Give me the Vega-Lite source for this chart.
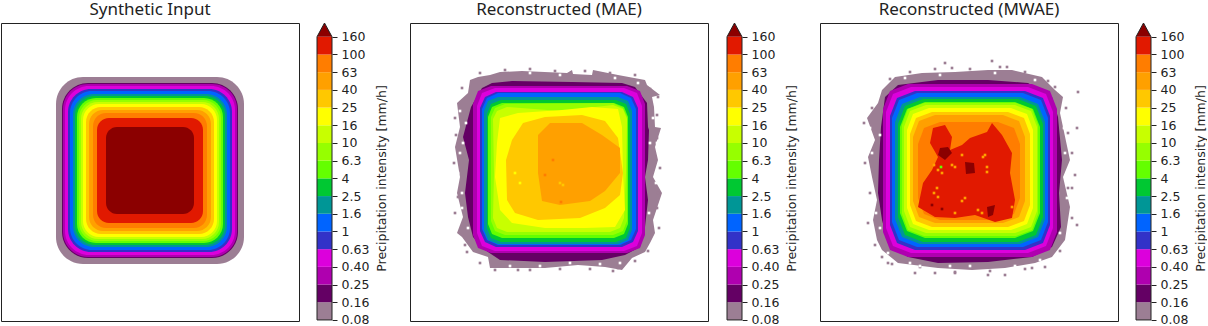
{"$schema":"https://vega.github.io/schema/vega-lite/v6.json","padding":{"left":0,"top":0,"right":0,"bottom":0},"background":"white","config":{"view":{"stroke":"#222","strokeWidth":1},"font":"DejaVu Sans"},"bounds":"flush","spacing":0,
"datasets":{
"bar":[{"l":0,"i":0,"j":1},{"l":1,"i":1,"j":2},{"l":2,"i":2,"j":3},{"l":3,"i":3,"j":4},{"l":4,"i":4,"j":5},{"l":5,"i":5,"j":6},{"l":6,"i":6,"j":7},{"l":7,"i":7,"j":8},{"l":8,"i":8,"j":9},{"l":9,"i":9,"j":10},{"l":10,"i":10,"j":11},{"l":11,"i":11,"j":12},{"l":12,"i":12,"j":13},{"l":13,"i":13,"j":14},{"l":14,"i":14,"j":15},{"l":15,"i":15,"j":16}],
"tip":[{"l":16,"i":16,"c":0},{"l":16,"i":16.78,"c":0.5},{"l":16,"i":16,"c":1}],
"edge":[{"i":0,"c":0},{"i":16,"c":0},{"i":16.78,"c":0.5},{"i":16,"c":1},{"i":0,"c":1},{"i":0,"c":0}],
"none":[],
"d1":[{"l":0,"x":55,"x2":243,"y":54,"y2":241},{"l":1,"x":61,"x2":237,"y":60,"y2":235},{"l":2,"x":62,"x2":236,"y":61,"y2":234},{"l":3,"x":64,"x2":234,"y":63,"y2":232},{"l":4,"x":67,"x2":231,"y":66,"y2":229},{"l":5,"x":69,"x2":229,"y":68,"y2":227},{"l":6,"x":72,"x2":226,"y":71,"y2":224},{"l":7,"x":74,"x2":224,"y":73,"y2":222},{"l":8,"x":76,"x2":222,"y":75,"y2":220},{"l":9,"x":78,"x2":220,"y":77,"y2":218},{"l":10,"x":80,"x2":218,"y":79,"y2":216},{"l":11,"x":82,"x2":216,"y":81,"y2":214},{"l":12,"x":85,"x2":213,"y":84,"y2":211},{"l":13,"x":88,"x2":210,"y":87,"y2":208},{"l":14,"x":92,"x2":206,"y":90,"y2":205},{"l":15,"x":96,"x2":202,"y":95,"y2":200},{"l":16,"x":105,"x2":193,"y":104,"y2":191}],
"d2":[
{"l":0,"x":68,"y":54},{"l":0,"x":80,"y":52},{"l":0,"x":90,"y":49},{"l":0,"x":112,"y":48},{"l":0,"x":157,"y":50},{"l":0,"x":162,"y":47},{"l":0,"x":163,"y":51},{"l":0,"x":182,"y":52},{"l":0,"x":183,"y":47},{"l":0,"x":208,"y":52},{"l":0,"x":235,"y":57},{"l":0,"x":237,"y":62},{"l":0,"x":250,"y":72},{"l":0,"x":242,"y":74},{"l":0,"x":244,"y":84},{"l":0,"x":245,"y":104},{"l":0,"x":251,"y":105},{"l":0,"x":245,"y":124},{"l":0,"x":248,"y":137},{"l":0,"x":243,"y":154},{"l":0,"x":252,"y":170},{"l":0,"x":243,"y":197},{"l":0,"x":245,"y":210},{"l":0,"x":240,"y":220},{"l":0,"x":235,"y":229},{"l":0,"x":222,"y":235},{"l":0,"x":212,"y":247},{"l":0,"x":195,"y":244},{"l":0,"x":168,"y":242},{"l":0,"x":135,"y":245},{"l":0,"x":80,"y":245},{"l":0,"x":78,"y":234},{"l":0,"x":63,"y":229},{"l":0,"x":52,"y":214},{"l":0,"x":47,"y":210},{"l":0,"x":53,"y":194},{"l":0,"x":47,"y":170},{"l":0,"x":50,"y":154},{"l":0,"x":45,"y":124},{"l":0,"x":50,"y":104},{"l":0,"x":47,"y":80},{"l":0,"x":58,"y":70},{"l":0,"x":60,"y":57},
{"l":1,"x":72,"y":65},{"l":1,"x":82,"y":60},{"l":1,"x":102,"y":58},{"l":1,"x":162,"y":59},{"l":1,"x":212,"y":60},{"l":1,"x":225,"y":64},{"l":1,"x":237,"y":80},{"l":1,"x":238,"y":104},{"l":1,"x":239,"y":107},{"l":1,"x":238,"y":137},{"l":1,"x":235,"y":154},{"l":1,"x":238,"y":177},{"l":1,"x":235,"y":204},{"l":1,"x":230,"y":224},{"l":1,"x":215,"y":232},{"l":1,"x":192,"y":237},{"l":1,"x":135,"y":239},{"l":1,"x":90,"y":237},{"l":1,"x":75,"y":227},{"l":1,"x":63,"y":214},{"l":1,"x":58,"y":194},{"l":1,"x":55,"y":170},{"l":1,"x":59,"y":137},{"l":1,"x":53,"y":114},{"l":1,"x":61,"y":84},
{"l":2,"x":81,"y":63},{"l":2,"x":217,"y":63},{"l":2,"x":230,"y":68},{"l":2,"x":235,"y":81},{"l":2,"x":235,"y":212},{"l":2,"x":230,"y":225},{"l":2,"x":217,"y":230},{"l":2,"x":81,"y":230},{"l":2,"x":68,"y":225},{"l":2,"x":63,"y":212},{"l":2,"x":63,"y":81},{"l":2,"x":68,"y":68},
{"l":3,"x":85,"y":65},{"l":3,"x":214,"y":65},{"l":3,"x":227,"y":70},{"l":3,"x":232,"y":83},{"l":3,"x":232,"y":210},{"l":3,"x":227,"y":223},{"l":3,"x":214,"y":228},{"l":3,"x":85,"y":228},{"l":3,"x":72,"y":223},{"l":3,"x":67,"y":210},{"l":3,"x":67,"y":83},{"l":3,"x":72,"y":70},
{"l":4,"x":86,"y":69},{"l":4,"x":212,"y":69},{"l":4,"x":223,"y":74},{"l":4,"x":228,"y":85},{"l":4,"x":228,"y":208},{"l":4,"x":223,"y":219},{"l":4,"x":212,"y":224},{"l":4,"x":86,"y":224},{"l":4,"x":75,"y":219},{"l":4,"x":70,"y":208},{"l":4,"x":70,"y":85},{"l":4,"x":75,"y":74},
{"l":5,"x":88,"y":70},{"l":5,"x":210,"y":70},{"l":5,"x":221,"y":75},{"l":5,"x":226,"y":86},{"l":5,"x":226,"y":206},{"l":5,"x":221,"y":217},{"l":5,"x":210,"y":222},{"l":5,"x":88,"y":222},{"l":5,"x":77,"y":217},{"l":5,"x":72,"y":206},{"l":5,"x":72,"y":86},{"l":5,"x":77,"y":75},
{"l":6,"x":88,"y":74},{"l":6,"x":208,"y":74},{"l":6,"x":218,"y":78},{"l":6,"x":222,"y":88},{"l":6,"x":222,"y":207},{"l":6,"x":218,"y":217},{"l":6,"x":208,"y":221},{"l":6,"x":88,"y":221},{"l":6,"x":78,"y":217},{"l":6,"x":74,"y":207},{"l":6,"x":74,"y":88},{"l":6,"x":78,"y":78},
{"l":7,"x":91,"y":77},{"l":7,"x":206,"y":77},{"l":7,"x":216,"y":81},{"l":7,"x":220,"y":91},{"l":7,"x":220,"y":205},{"l":7,"x":216,"y":215},{"l":7,"x":206,"y":219},{"l":7,"x":91,"y":219},{"l":7,"x":81,"y":215},{"l":7,"x":77,"y":205},{"l":7,"x":77,"y":91},{"l":7,"x":81,"y":81},
{"l":8,"x":92,"y":80},{"l":8,"x":204,"y":80},{"l":8,"x":214,"y":84},{"l":8,"x":218,"y":94},{"l":8,"x":218,"y":201},{"l":8,"x":214,"y":211},{"l":8,"x":204,"y":215},{"l":8,"x":92,"y":215},{"l":8,"x":82,"y":211},{"l":8,"x":78,"y":201},{"l":8,"x":78,"y":94},{"l":8,"x":82,"y":84},
{"l":9,"x":95,"y":81},{"l":9,"x":203,"y":80},{"l":9,"x":213,"y":85},{"l":9,"x":217,"y":94},{"l":9,"x":217,"y":198},{"l":9,"x":213,"y":208},{"l":9,"x":203,"y":212},{"l":9,"x":95,"y":212},{"l":9,"x":85,"y":208},{"l":9,"x":81,"y":198},{"l":9,"x":81,"y":94},{"l":9,"x":85,"y":85},
{"l":10,"x":97,"y":84},{"l":10,"x":150,"y":88},{"l":10,"x":203,"y":82},{"l":10,"x":213,"y":86},{"l":10,"x":217,"y":96},{"l":10,"x":216,"y":150},{"l":10,"x":214,"y":195},{"l":10,"x":210,"y":205},{"l":10,"x":200,"y":209},{"l":10,"x":97,"y":209},{"l":10,"x":87,"y":205},{"l":10,"x":83,"y":195},{"l":10,"x":84,"y":150},{"l":10,"x":83,"y":96},{"l":10,"x":87,"y":88},
{"l":11,"x":90,"y":95},{"l":11,"x":108,"y":90},{"l":11,"x":152,"y":87},{"l":11,"x":182,"y":84},{"l":11,"x":208,"y":86},{"l":11,"x":212,"y":104},{"l":11,"x":213,"y":150},{"l":11,"x":215,"y":187},{"l":11,"x":205,"y":204},{"l":11,"x":175,"y":205},{"l":11,"x":135,"y":205},{"l":11,"x":102,"y":200},{"l":11,"x":90,"y":187},{"l":11,"x":85,"y":154},{"l":11,"x":87,"y":120},
{"l":12,"x":113,"y":100},{"l":12,"x":135,"y":94},{"l":12,"x":172,"y":92},{"l":12,"x":195,"y":98},{"l":12,"x":208,"y":115},{"l":12,"x":213,"y":150},{"l":12,"x":210,"y":172},{"l":12,"x":195,"y":185},{"l":12,"x":170,"y":195},{"l":12,"x":128,"y":197},{"l":12,"x":105,"y":190},{"l":12,"x":97,"y":177},{"l":12,"x":96,"y":137},{"l":12,"x":102,"y":117},
{"l":13,"x":128,"y":112},{"l":13,"x":140,"y":100},{"l":13,"x":172,"y":100},{"l":13,"x":192,"y":112},{"l":13,"x":210,"y":125},{"l":13,"x":210,"y":150},{"l":13,"x":195,"y":168},{"l":13,"x":180,"y":178},{"l":13,"x":150,"y":182},{"l":13,"x":132,"y":178},{"l":13,"x":128,"y":150}],
"s2":[{"l":14,"x":143,"y":137},{"l":14,"x":151,"y":179},{"l":14,"x":135,"y":152},{"l":12,"x":150,"y":160},{"l":12,"x":153,"y":162},{"l":11,"x":105,"y":150},{"l":11,"x":110,"y":160},{"l":0,"x":48,"y":174},{"l":0,"x":85,"y":247},{"l":0,"x":108,"y":247},{"l":0,"x":208,"y":245},{"l":0,"x":57,"y":229},{"l":0,"x":248,"y":170},{"l":0,"x":248,"y":74},{"l":0,"x":70,"y":50},{"l":0,"x":95,"y":47},{"l":0,"x":120,"y":46},{"l":0,"x":145,"y":48},{"l":0,"x":175,"y":48},{"l":0,"x":200,"y":50},{"l":0,"x":225,"y":52},{"l":0,"x":240,"y":66},{"l":0,"x":247,"y":92},{"l":0,"x":247,"y":115},{"l":0,"x":250,"y":145},{"l":0,"x":247,"y":185},{"l":0,"x":249,"y":205},{"l":0,"x":238,"y":228},{"l":0,"x":225,"y":238},{"l":0,"x":203,"y":248},{"l":0,"x":180,"y":246},{"l":0,"x":150,"y":246},{"l":0,"x":120,"y":247},{"l":0,"x":70,"y":240},{"l":0,"x":55,"y":222},{"l":0,"x":45,"y":190},{"l":0,"x":44,"y":140},{"l":0,"x":46,"y":112},{"l":0,"x":45,"y":95},{"l":0,"x":52,"y":65},{"l":-1,"x":52,"y":170},{"l":-1,"x":50,"y":130},{"l":-1,"x":247,"y":120},{"l":-1,"x":210,"y":240},{"l":-1,"x":130,"y":243},{"l":-1,"x":56,"y":100},{"l":-1,"x":50,"y":88},{"l":-1,"x":53,"y":120},{"l":-1,"x":48,"y":150},{"l":-1,"x":52,"y":185},{"l":-1,"x":58,"y":205},{"l":-1,"x":243,"y":95},{"l":-1,"x":240,"y":120},{"l":-1,"x":246,"y":160},{"l":-1,"x":239,"y":190},{"l":-1,"x":100,"y":243},{"l":-1,"x":160,"y":240},{"l":-1,"x":190,"y":241},{"l":-1,"x":75,"y":241},{"l":-1,"x":120,"y":50},{"l":-1,"x":150,"y":52},{"l":-1,"x":205,"y":55},{"l":-1,"x":228,"y":60}],
"d3":[
{"l":0,"x":75,"y":54},{"l":0,"x":102,"y":50},{"l":0,"x":135,"y":49},{"l":0,"x":168,"y":47},{"l":0,"x":192,"y":47},{"l":0,"x":222,"y":54},{"l":0,"x":235,"y":67},{"l":0,"x":243,"y":74},{"l":0,"x":240,"y":90},{"l":0,"x":250,"y":137},{"l":0,"x":243,"y":154},{"l":0,"x":250,"y":184},{"l":0,"x":245,"y":217},{"l":0,"x":232,"y":234},{"l":0,"x":215,"y":240},{"l":0,"x":185,"y":245},{"l":0,"x":152,"y":247},{"l":0,"x":118,"y":245},{"l":0,"x":78,"y":240},{"l":0,"x":62,"y":227},{"l":0,"x":57,"y":217},{"l":0,"x":53,"y":197},{"l":0,"x":57,"y":177},{"l":0,"x":52,"y":154},{"l":0,"x":48,"y":134},{"l":0,"x":55,"y":117},{"l":0,"x":47,"y":95},{"l":0,"x":58,"y":80},{"l":0,"x":62,"y":67},
{"l":1,"x":65,"y":74},{"l":1,"x":78,"y":62},{"l":1,"x":118,"y":57},{"l":1,"x":168,"y":57},{"l":1,"x":208,"y":60},{"l":1,"x":232,"y":74},{"l":1,"x":238,"y":94},{"l":1,"x":242,"y":137},{"l":1,"x":239,"y":170},{"l":1,"x":241,"y":204},{"l":1,"x":232,"y":224},{"l":1,"x":212,"y":234},{"l":1,"x":168,"y":239},{"l":1,"x":118,"y":240},{"l":1,"x":88,"y":234},{"l":1,"x":68,"y":220},{"l":1,"x":62,"y":197},{"l":1,"x":58,"y":170},{"l":1,"x":59,"y":137},{"l":1,"x":61,"y":104},
{"l":2,"x":88,"y":61},{"l":2,"x":212,"y":61},{"l":2,"x":230,"y":68},{"l":2,"x":237,"y":86},{"l":2,"x":237,"y":209},{"l":2,"x":230,"y":227},{"l":2,"x":212,"y":234},{"l":2,"x":88,"y":234},{"l":2,"x":70,"y":227},{"l":2,"x":63,"y":209},{"l":2,"x":63,"y":86},{"l":2,"x":70,"y":68},
{"l":3,"x":91,"y":64},{"l":3,"x":208,"y":64},{"l":3,"x":226,"y":71},{"l":3,"x":233,"y":89},{"l":3,"x":233,"y":205},{"l":3,"x":226,"y":223},{"l":3,"x":208,"y":230},{"l":3,"x":91,"y":230},{"l":3,"x":73,"y":223},{"l":3,"x":66,"y":205},{"l":3,"x":66,"y":89},{"l":3,"x":73,"y":71},
{"l":4,"x":95,"y":68},{"l":4,"x":205,"y":68},{"l":4,"x":223,"y":75},{"l":4,"x":230,"y":93},{"l":4,"x":230,"y":202},{"l":4,"x":223,"y":220},{"l":4,"x":205,"y":227},{"l":4,"x":95,"y":227},{"l":4,"x":77,"y":220},{"l":4,"x":70,"y":202},{"l":4,"x":70,"y":93},{"l":4,"x":77,"y":75},
{"l":5,"x":97,"y":70},{"l":5,"x":203,"y":70},{"l":5,"x":221,"y":77},{"l":5,"x":228,"y":95},{"l":5,"x":228,"y":199},{"l":5,"x":221,"y":217},{"l":5,"x":203,"y":224},{"l":5,"x":97,"y":224},{"l":5,"x":79,"y":217},{"l":5,"x":72,"y":199},{"l":5,"x":72,"y":95},{"l":5,"x":79,"y":77},
{"l":6,"x":100,"y":74},{"l":6,"x":200,"y":74},{"l":6,"x":218,"y":81},{"l":6,"x":225,"y":99},{"l":6,"x":225,"y":196},{"l":6,"x":218,"y":214},{"l":6,"x":200,"y":221},{"l":6,"x":100,"y":221},{"l":6,"x":82,"y":214},{"l":6,"x":75,"y":196},{"l":6,"x":75,"y":99},{"l":6,"x":82,"y":81},
{"l":7,"x":103,"y":76},{"l":7,"x":198,"y":76},{"l":7,"x":216,"y":83},{"l":7,"x":223,"y":101},{"l":7,"x":223,"y":194},{"l":7,"x":216,"y":212},{"l":7,"x":198,"y":219},{"l":7,"x":103,"y":219},{"l":7,"x":85,"y":212},{"l":7,"x":78,"y":194},{"l":7,"x":78,"y":101},{"l":7,"x":85,"y":83},
{"l":8,"x":105,"y":79},{"l":8,"x":195,"y":79},{"l":8,"x":213,"y":86},{"l":8,"x":220,"y":104},{"l":8,"x":220,"y":190},{"l":8,"x":213,"y":208},{"l":8,"x":195,"y":215},{"l":8,"x":105,"y":215},{"l":8,"x":87,"y":208},{"l":8,"x":80,"y":190},{"l":8,"x":80,"y":104},{"l":8,"x":87,"y":86},
{"l":9,"x":104,"y":80},{"l":9,"x":196,"y":80},{"l":9,"x":212,"y":86},{"l":9,"x":218,"y":102},{"l":9,"x":218,"y":191},{"l":9,"x":212,"y":207},{"l":9,"x":196,"y":213},{"l":9,"x":104,"y":213},{"l":9,"x":88,"y":207},{"l":9,"x":82,"y":191},{"l":9,"x":82,"y":102},{"l":9,"x":88,"y":86},
{"l":10,"x":106,"y":82},{"l":10,"x":195,"y":82},{"l":10,"x":211,"y":88},{"l":10,"x":217,"y":104},{"l":10,"x":217,"y":188},{"l":10,"x":211,"y":204},{"l":10,"x":195,"y":210},{"l":10,"x":106,"y":210},{"l":10,"x":90,"y":204},{"l":10,"x":84,"y":188},{"l":10,"x":84,"y":104},{"l":10,"x":90,"y":88},
{"l":11,"x":109,"y":85},{"l":11,"x":191,"y":85},{"l":11,"x":207,"y":91},{"l":11,"x":213,"y":107},{"l":11,"x":213,"y":185},{"l":11,"x":207,"y":201},{"l":11,"x":191,"y":207},{"l":11,"x":109,"y":207},{"l":11,"x":93,"y":201},{"l":11,"x":87,"y":185},{"l":11,"x":87,"y":107},{"l":11,"x":93,"y":91},
{"l":12,"x":112,"y":89},{"l":12,"x":188,"y":89},{"l":12,"x":204,"y":95},{"l":12,"x":210,"y":111},{"l":12,"x":210,"y":182},{"l":12,"x":204,"y":198},{"l":12,"x":188,"y":204},{"l":12,"x":112,"y":204},{"l":12,"x":96,"y":198},{"l":12,"x":90,"y":182},{"l":12,"x":90,"y":111},{"l":12,"x":96,"y":95},
{"l":13,"x":115,"y":92},{"l":13,"x":183,"y":92},{"l":13,"x":199,"y":98},{"l":13,"x":205,"y":114},{"l":13,"x":205,"y":178},{"l":13,"x":199,"y":194},{"l":13,"x":183,"y":200},{"l":13,"x":115,"y":200},{"l":13,"x":99,"y":194},{"l":13,"x":93,"y":178},{"l":13,"x":93,"y":114},{"l":13,"x":99,"y":98},
{"l":14,"x":120,"y":99},{"l":14,"x":178,"y":99},{"l":14,"x":194,"y":105},{"l":14,"x":200,"y":121},{"l":14,"x":200,"y":175},{"l":14,"x":194,"y":191},{"l":14,"x":178,"y":197},{"l":14,"x":120,"y":197},{"l":14,"x":104,"y":191},{"l":14,"x":98,"y":175},{"l":14,"x":98,"y":121},{"l":14,"x":104,"y":105},
{"l":15,"x":113,"y":105},{"l":15,"x":125,"y":102},{"l":15,"x":132,"y":114},{"l":15,"x":130,"y":127},{"l":15,"x":142,"y":122},{"l":15,"x":150,"y":115},{"l":15,"x":167,"y":109},{"l":15,"x":172,"y":100},{"l":15,"x":182,"y":112},{"l":15,"x":192,"y":130},{"l":15,"x":190,"y":150},{"l":15,"x":195,"y":177},{"l":15,"x":192,"y":195},{"l":15,"x":175,"y":199},{"l":15,"x":155,"y":192},{"l":15,"x":135,"y":195},{"l":15,"x":115,"y":194},{"l":15,"x":98,"y":184},{"l":15,"x":103,"y":160},{"l":15,"x":112,"y":147},{"l":15,"x":118,"y":134},{"l":15,"x":110,"y":120},
{"l":16,"g":1,"x":120,"y":125},{"l":16,"g":1,"x":128,"y":124},{"l":16,"g":1,"x":132,"y":130},{"l":16,"g":1,"x":125,"y":137},{"l":16,"g":1,"x":118,"y":132},
{"l":16,"g":2,"x":145,"y":139},{"l":16,"g":2,"x":154,"y":140},{"l":16,"g":2,"x":155,"y":150},{"l":16,"g":2,"x":146,"y":151},
{"l":16,"g":3,"x":167,"y":184},{"l":16,"g":3,"x":175,"y":182},{"l":16,"g":3,"x":173,"y":192},{"l":16,"g":3,"x":168,"y":194}],
"s3":[{"l":16,"x":112,"y":182},{"l":16,"x":122,"y":186},{"l":13,"x":165,"y":132},{"l":13,"x":163,"y":134},{"l":13,"x":167,"y":144},{"l":13,"x":167,"y":149},{"l":13,"x":145,"y":175},{"l":13,"x":142,"y":178},{"l":13,"x":117,"y":165},{"l":13,"x":114,"y":170},{"l":13,"x":118,"y":174},{"l":13,"x":135,"y":190},{"l":13,"x":158,"y":187},{"l":13,"x":162,"y":190},{"l":13,"x":132,"y":142},{"l":13,"x":135,"y":144},{"l":13,"x":118,"y":147},{"l":13,"x":122,"y":150},{"l":13,"x":192,"y":184},{"l":13,"x":142,"y":132},{"l":13,"x":114,"y":142},{"l":8,"x":121,"y":144},{"l":0,"x":125,"y":40},{"l":0,"x":132,"y":45},{"l":0,"x":172,"y":38},{"l":0,"x":187,"y":44},{"l":0,"x":235,"y":64},{"l":0,"x":258,"y":69},{"l":0,"x":257,"y":105},{"l":0,"x":255,"y":152},{"l":0,"x":252,"y":165},{"l":0,"x":257,"y":202},{"l":0,"x":62,"y":234},{"l":0,"x":68,"y":240},{"l":0,"x":95,"y":250},{"l":0,"x":115,"y":250},{"l":0,"x":135,"y":250},{"l":0,"x":168,"y":252},{"l":0,"x":185,"y":252},{"l":0,"x":212,"y":245},{"l":0,"x":225,"y":244},{"l":0,"x":70,"y":56},{"l":0,"x":90,"y":49},{"l":0,"x":115,"y":46},{"l":0,"x":150,"y":46},{"l":0,"x":180,"y":44},{"l":0,"x":205,"y":49},{"l":0,"x":228,"y":58},{"l":0,"x":246,"y":85},{"l":0,"x":248,"y":110},{"l":0,"x":252,"y":130},{"l":0,"x":248,"y":165},{"l":0,"x":252,"y":195},{"l":0,"x":240,"y":228},{"l":0,"x":205,"y":246},{"l":0,"x":170,"y":248},{"l":0,"x":135,"y":249},{"l":0,"x":100,"y":244},{"l":0,"x":72,"y":241},{"l":0,"x":55,"y":222},{"l":0,"x":48,"y":200},{"l":0,"x":50,"y":170},{"l":0,"x":45,"y":140},{"l":0,"x":44,"y":100},{"l":0,"x":52,"y":85},{"l":-1,"x":52,"y":180},{"l":-1,"x":245,"y":130},{"l":-1,"x":150,"y":243},{"l":-1,"x":100,"y":243},{"l":-1,"x":60,"y":112},{"l":-1,"x":52,"y":130},{"l":-1,"x":50,"y":105},{"l":-1,"x":56,"y":190},{"l":-1,"x":60,"y":205},{"l":-1,"x":244,"y":105},{"l":-1,"x":247,"y":150},{"l":-1,"x":247,"y":175},{"l":-1,"x":240,"y":210},{"l":-1,"x":220,"y":237},{"l":-1,"x":195,"y":243},{"l":-1,"x":130,"y":243},{"l":-1,"x":90,"y":240},{"l":-1,"x":68,"y":230},{"l":-1,"x":85,"y":55},{"l":-1,"x":120,"y":52},{"l":-1,"x":175,"y":50},{"l":-1,"x":215,"y":57}]
},
"hconcat":[
{"width":298,"height":298,"title":{"text":"Synthetic Input","font":"Noto Sans","fontSize":17,"fontWeight":"normal","color":"#222","offset":4},"data":{"name":"d1"},"mark":{"type":"rect","cornerRadius":{"expr":"11+(16-datum.l)"}},"encoding":{"x":{"field":"x","type":"quantitative","scale":{"domain":[0,298],"nice":false},"axis":null},"x2":{"field":"x2"},"y":{"field":"y","type":"quantitative","scale":{"domain":[0,298],"nice":false,"reverse":true},"axis":null},"y2":{"field":"y2"},"fill":{"field":"l","type":"ordinal","legend":null,"scale":{"domain":[-1,0,1,2,3,4,5,6,7,8,9,10,11,12,13,14,15,16],"range":["#ffffff","#9c7e94","#640064","#AF00AF","#DC00DC","#3232C8","#0064FF","#009696","#00C832","#64FF00","#96FF00","#C8FF00","#FFFF00","#FFC800","#FFA000","#FF7D00","#E11900","#8B0000"]}}}},
{"width":18,"height":298,"view":{"stroke":null},"data":{"name":"none"},"mark":"rect","encoding":{}},
{"width":15,"height":298,"view":{"stroke":null},"encoding":{"y":{"field":"i","type":"quantitative","scale":{"domain":[-0.06,16.78],"nice":false,"zero":false},"axis":{"orient":"right","values":[0,1,2,3,4,5,6,7,8,9,10,11,12,13,14,15,16],"labelExpr":"['0.08','0.16','0.25','0.40','0.63','1','1.6','2.5','4','6.3','10','16','25','40','63','100','160'][datum.value]","labelOverlap":false,"labelFlush":false,"labelBound":false,"grid":false,"domain":false,"tickSize":5,"tickColor":"#222","labelColor":"#222","labelFontSize":12.5,"labelFont":"DejaVu Sans","labelPadding":4,"title":"Precipitation intensity [mm/h]","titleFont":"DejaVu Sans","titleFontSize":12.5,"titleFontWeight":"normal","titleColor":"#222","titleAngle":270,"titleX":49,"titleY":155,"titleBaseline":"middle"}}},"layer":[
{"data":{"name":"bar"},"mark":"rect","encoding":{"x":{"datum":0,"type":"quantitative","scale":{"domain":[0,1],"nice":false},"axis":null},"x2":{"datum":1},"y2":{"field":"j"},"fill":{"field":"l","type":"ordinal","legend":null,"scale":{"domain":[-1,0,1,2,3,4,5,6,7,8,9,10,11,12,13,14,15,16],"range":["#ffffff","#9c7e94","#640064","#AF00AF","#DC00DC","#3232C8","#0064FF","#009696","#00C832","#64FF00","#96FF00","#C8FF00","#FFFF00","#FFC800","#FFA000","#FF7D00","#E11900","#8B0000"]}}}},
{"data":{"name":"tip"},"mark":{"type":"line","strokeWidth":0,"fill":"#8B0000"},"encoding":{"x":{"field":"c","type":"quantitative","axis":null},"order":{"value":null}}},
{"data":{"name":"edge"},"mark":{"type":"line","strokeWidth":1,"color":"#222"},"encoding":{"x":{"field":"c","type":"quantitative","axis":null},"order":{"value":null}}}
]},
{"width":78,"height":298,"view":{"stroke":null},"data":{"name":"none"},"mark":"rect","encoding":{}},
{"width":298,"height":298,"title":{"text":"Reconstructed (MAE)","font":"Noto Sans","fontSize":17,"fontWeight":"normal","color":"#222","offset":4},"layer":[
{"data":{"name":"d2"},"mark":{"type":"line","strokeWidth":0},"encoding":{"x":{"field":"x","type":"quantitative","scale":{"domain":[0,298],"nice":false},"axis":null},"y":{"field":"y","type":"quantitative","scale":{"domain":[0,298],"nice":false,"reverse":true},"axis":null},"fill":{"field":"l","type":"ordinal","legend":null,"scale":{"domain":[-1,0,1,2,3,4,5,6,7,8,9,10,11,12,13,14,15,16],"range":["#ffffff","#9c7e94","#640064","#AF00AF","#DC00DC","#3232C8","#0064FF","#009696","#00C832","#64FF00","#96FF00","#C8FF00","#FFFF00","#FFC800","#FFA000","#FF7D00","#E11900","#8B0000"]}},"detail":{"field":"g"},"order":{"value":null}}},
{"data":{"name":"s2"},"mark":{"type":"point","shape":"square","filled":true,"size":7,"opacity":1},"encoding":{"x":{"field":"x","type":"quantitative"},"y":{"field":"y","type":"quantitative"},"fill":{"field":"l","type":"ordinal"}}}]},
{"width":18.5,"height":298,"view":{"stroke":null},"data":{"name":"none"},"mark":"rect","encoding":{}},
{"width":15,"height":298,"view":{"stroke":null},"encoding":{"y":{"field":"i","type":"quantitative","scale":{"domain":[-0.06,16.78],"nice":false,"zero":false},"axis":{"orient":"right","values":[0,1,2,3,4,5,6,7,8,9,10,11,12,13,14,15,16],"labelExpr":"['0.08','0.16','0.25','0.40','0.63','1','1.6','2.5','4','6.3','10','16','25','40','63','100','160'][datum.value]","labelOverlap":false,"labelFlush":false,"labelBound":false,"grid":false,"domain":false,"tickSize":5,"tickColor":"#222","labelColor":"#222","labelFontSize":12.5,"labelFont":"DejaVu Sans","labelPadding":4,"title":"Precipitation intensity [mm/h]","titleFont":"DejaVu Sans","titleFontSize":12.5,"titleFontWeight":"normal","titleColor":"#222","titleAngle":270,"titleX":49,"titleY":155,"titleBaseline":"middle"}}},"layer":[
{"data":{"name":"bar"},"mark":"rect","encoding":{"x":{"datum":0,"type":"quantitative","scale":{"domain":[0,1],"nice":false},"axis":null},"x2":{"datum":1},"y2":{"field":"j"},"fill":{"field":"l","type":"ordinal","legend":null,"scale":{"domain":[-1,0,1,2,3,4,5,6,7,8,9,10,11,12,13,14,15,16],"range":["#ffffff","#9c7e94","#640064","#AF00AF","#DC00DC","#3232C8","#0064FF","#009696","#00C832","#64FF00","#96FF00","#C8FF00","#FFFF00","#FFC800","#FFA000","#FF7D00","#E11900","#8B0000"]}}}},
{"data":{"name":"tip"},"mark":{"type":"line","strokeWidth":0,"fill":"#8B0000"},"encoding":{"x":{"field":"c","type":"quantitative","axis":null},"order":{"value":null}}},
{"data":{"name":"edge"},"mark":{"type":"line","strokeWidth":1,"color":"#222"},"encoding":{"x":{"field":"c","type":"quantitative","axis":null},"order":{"value":null}}}
]},
{"width":78,"height":298,"view":{"stroke":null},"data":{"name":"none"},"mark":"rect","encoding":{}},
{"width":298,"height":298,"title":{"text":"Reconstructed (MWAE)","font":"Noto Sans","fontSize":17,"fontWeight":"normal","color":"#222","offset":4},"layer":[
{"data":{"name":"d3"},"mark":{"type":"line","strokeWidth":0},"encoding":{"x":{"field":"x","type":"quantitative","scale":{"domain":[0,298],"nice":false},"axis":null},"y":{"field":"y","type":"quantitative","scale":{"domain":[0,298],"nice":false,"reverse":true},"axis":null},"fill":{"field":"l","type":"ordinal","legend":null,"scale":{"domain":[-1,0,1,2,3,4,5,6,7,8,9,10,11,12,13,14,15,16],"range":["#ffffff","#9c7e94","#640064","#AF00AF","#DC00DC","#3232C8","#0064FF","#009696","#00C832","#64FF00","#96FF00","#C8FF00","#FFFF00","#FFC800","#FFA000","#FF7D00","#E11900","#8B0000"]}},"detail":{"field":"g"},"order":{"value":null}}},
{"data":{"name":"s3"},"mark":{"type":"point","shape":"square","filled":true,"size":7,"opacity":1},"encoding":{"x":{"field":"x","type":"quantitative"},"y":{"field":"y","type":"quantitative"},"fill":{"field":"l","type":"ordinal"}}}]},
{"width":18,"height":298,"view":{"stroke":null},"data":{"name":"none"},"mark":"rect","encoding":{}},
{"width":15,"height":298,"view":{"stroke":null},"encoding":{"y":{"field":"i","type":"quantitative","scale":{"domain":[-0.06,16.78],"nice":false,"zero":false},"axis":{"orient":"right","values":[0,1,2,3,4,5,6,7,8,9,10,11,12,13,14,15,16],"labelExpr":"['0.08','0.16','0.25','0.40','0.63','1','1.6','2.5','4','6.3','10','16','25','40','63','100','160'][datum.value]","labelOverlap":false,"labelFlush":false,"labelBound":false,"grid":false,"domain":false,"tickSize":5,"tickColor":"#222","labelColor":"#222","labelFontSize":12.5,"labelFont":"DejaVu Sans","labelPadding":4,"title":"Precipitation intensity [mm/h]","titleFont":"DejaVu Sans","titleFontSize":12.5,"titleFontWeight":"normal","titleColor":"#222","titleAngle":270,"titleX":49,"titleY":155,"titleBaseline":"middle"}}},"layer":[
{"data":{"name":"bar"},"mark":"rect","encoding":{"x":{"datum":0,"type":"quantitative","scale":{"domain":[0,1],"nice":false},"axis":null},"x2":{"datum":1},"y2":{"field":"j"},"fill":{"field":"l","type":"ordinal","legend":null,"scale":{"domain":[-1,0,1,2,3,4,5,6,7,8,9,10,11,12,13,14,15,16],"range":["#ffffff","#9c7e94","#640064","#AF00AF","#DC00DC","#3232C8","#0064FF","#009696","#00C832","#64FF00","#96FF00","#C8FF00","#FFFF00","#FFC800","#FFA000","#FF7D00","#E11900","#8B0000"]}}}},
{"data":{"name":"tip"},"mark":{"type":"line","strokeWidth":0,"fill":"#8B0000"},"encoding":{"x":{"field":"c","type":"quantitative","axis":null},"order":{"value":null}}},
{"data":{"name":"edge"},"mark":{"type":"line","strokeWidth":1,"color":"#222"},"encoding":{"x":{"field":"c","type":"quantitative","axis":null},"order":{"value":null}}}
]}
]}
